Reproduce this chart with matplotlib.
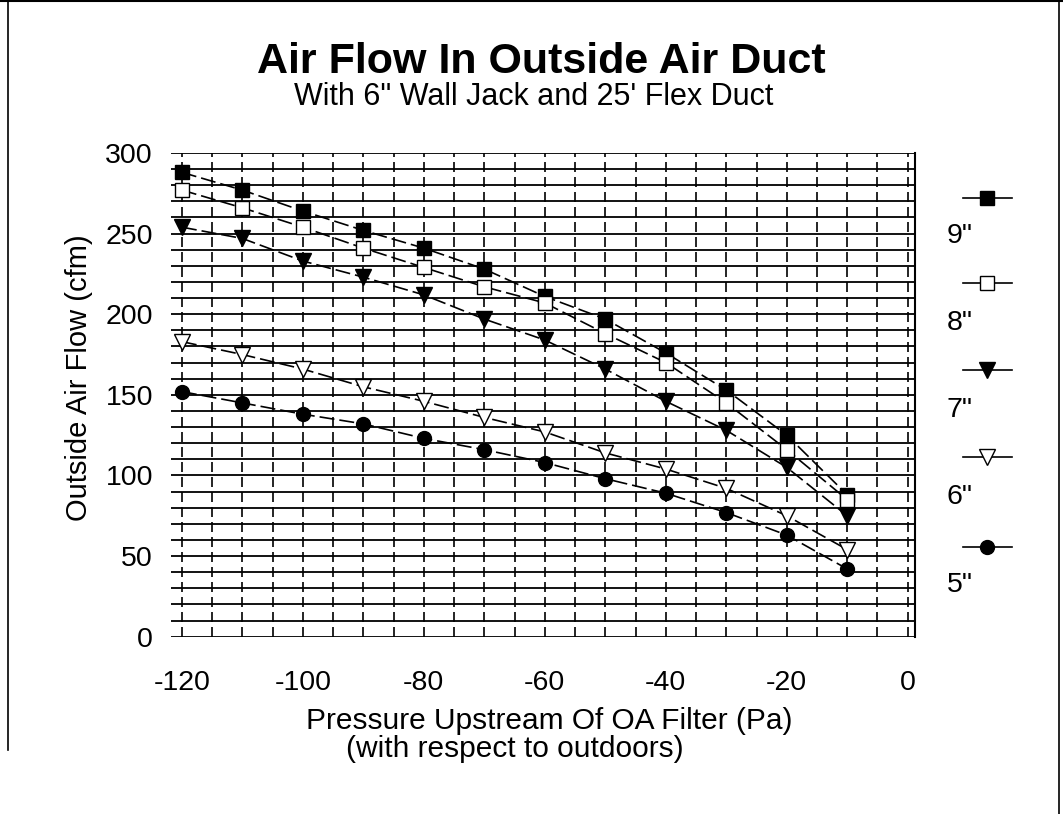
import matplotlib
matplotlib.use("Agg")
import matplotlib.pyplot as plt
from matplotlib.lines import Line2D

plt.rcParams['font.family'] = ['Liberation Sans', 'DejaVu Sans']
plt.rcParams['axes.unicode_minus'] = False

pressure = [-120, -110, -100, -90, -80, -70, -60, -50, -40, -30, -20, -10]
flow_9 = [288, 277, 264, 252, 241, 228, 211, 197, 176, 153, 125, 88]
flow_8 = [277, 266, 254, 241, 229, 217, 207, 188, 170, 145, 116, 85]
flow_7 = [254, 247, 233, 223, 212, 197, 184, 166, 146, 128, 105, 75]
flow_6 = [183, 175, 166, 155, 146, 136, 127, 114, 104, 92, 75, 54]
flow_5 = [152, 145, 138, 132, 123, 116, 108, 98, 89, 77, 63, 42]
series_labels = ['9"', '8"', '7"', '6"', '5"']
x_ticks = [-120, -100, -80, -60, -40, -20, 0]
y_ticks = [0, 50, 100, 150, 200, 250, 300]

series = [flow_9, flow_8, flow_7, flow_6, flow_5]
styles = [
    dict(marker='s', mfc='black', mec='black', ms=10),
    dict(marker='s', mfc='white', mec='black', ms=10),
    dict(marker='v', mfc='black', mec='black', ms=11),
    dict(marker='v', mfc='white', mec='black', ms=11),
    dict(marker='o', mfc='black', mec='black', ms=10),
]

W, H = 1063, 814
fig = plt.figure(figsize=(W / 100, H / 100), dpi=100)
ax = fig.add_axes([171 / W, 1 - 636.7 / H, (915 - 171) / W, (636.7 - 153) / H])

# grid
for yv in range(0, 301, 10):
    ax.axhline(yv, color='black', lw=1.3, zorder=1)
for xv in range(-120, 1, 5):
    ax.axvline(xv, color='black', lw=1.2, ls=(0, (6, 3)), zorder=1)

for vals, st in zip(series, styles):
    ax.plot(pressure, vals, color='black', lw=1.2, ls=(0, (9, 3)), zorder=3, **st)

ax.set_xlim(-121.8, 1.2)
ax.set_ylim(0, 300)
ax.set_xticks(x_ticks)
ax.set_yticks(y_ticks)
ax.tick_params(axis='x', length=0, labelsize=20.5, pad=24)
ax.tick_params(axis='y', length=0, labelsize=20.5, pad=13)
for s in ax.spines.values():
    s.set_visible(False)
ax.spines['right'].set_visible(True)
ax.spines['right'].set_linewidth(1.5)

fig.text(79 / W, 1 - 378 / H, 'Outside Air Flow (cfm)', rotation=90,
         ha='center', va='center', fontsize=21)

fig.text(541 / W, 1 - 62 / H, 'Air Flow In Outside Air Duct', ha='center', va='center',
         fontsize=31, fontweight='bold')
fig.text(534 / W, 1 - 97 / H, 'With 6" Wall Jack and 25\' Flex Duct', ha='center', va='center',
         fontsize=22)
fig.text(549 / W, 1 - 721 / H, 'Pressure Upstream Of OA Filter (Pa)', ha='center', va='center',
         fontsize=21.5)
fig.text(515 / W, 1 - 749 / H, '(with respect to outdoors)', ha='center', va='center',
         fontsize=21.5)

# legend drawn at right
marker_y = [198, 283, 370, 457, 547]
label_y = [236, 323, 410, 497, 585]
for st, lab, my, ly in zip(styles, series_labels, marker_y, label_y):
    yy = 1 - my / H
    fig.add_artist(Line2D([963 / W, 987 / W, 1012 / W], [yy, yy, yy],
                          color='black', lw=1.2, markevery=[1], **st))
    fig.text(947 / W, 1 - ly / H, lab, ha='left', va='center', fontsize=20.5)

# scan frame
fig.add_artist(Line2D([8 / W, 8 / W], [1 - 750 / H, 1.0], color='black', lw=1.2))
fig.add_artist(Line2D([0, 1], [1 - 1 / H, 1 - 1 / H], color='black', lw=1.5))
fig.add_artist(Line2D([1059 / W, 1059 / W], [0, 1], color='black', lw=1.2))

fig.savefig('out.png', dpi=100)
